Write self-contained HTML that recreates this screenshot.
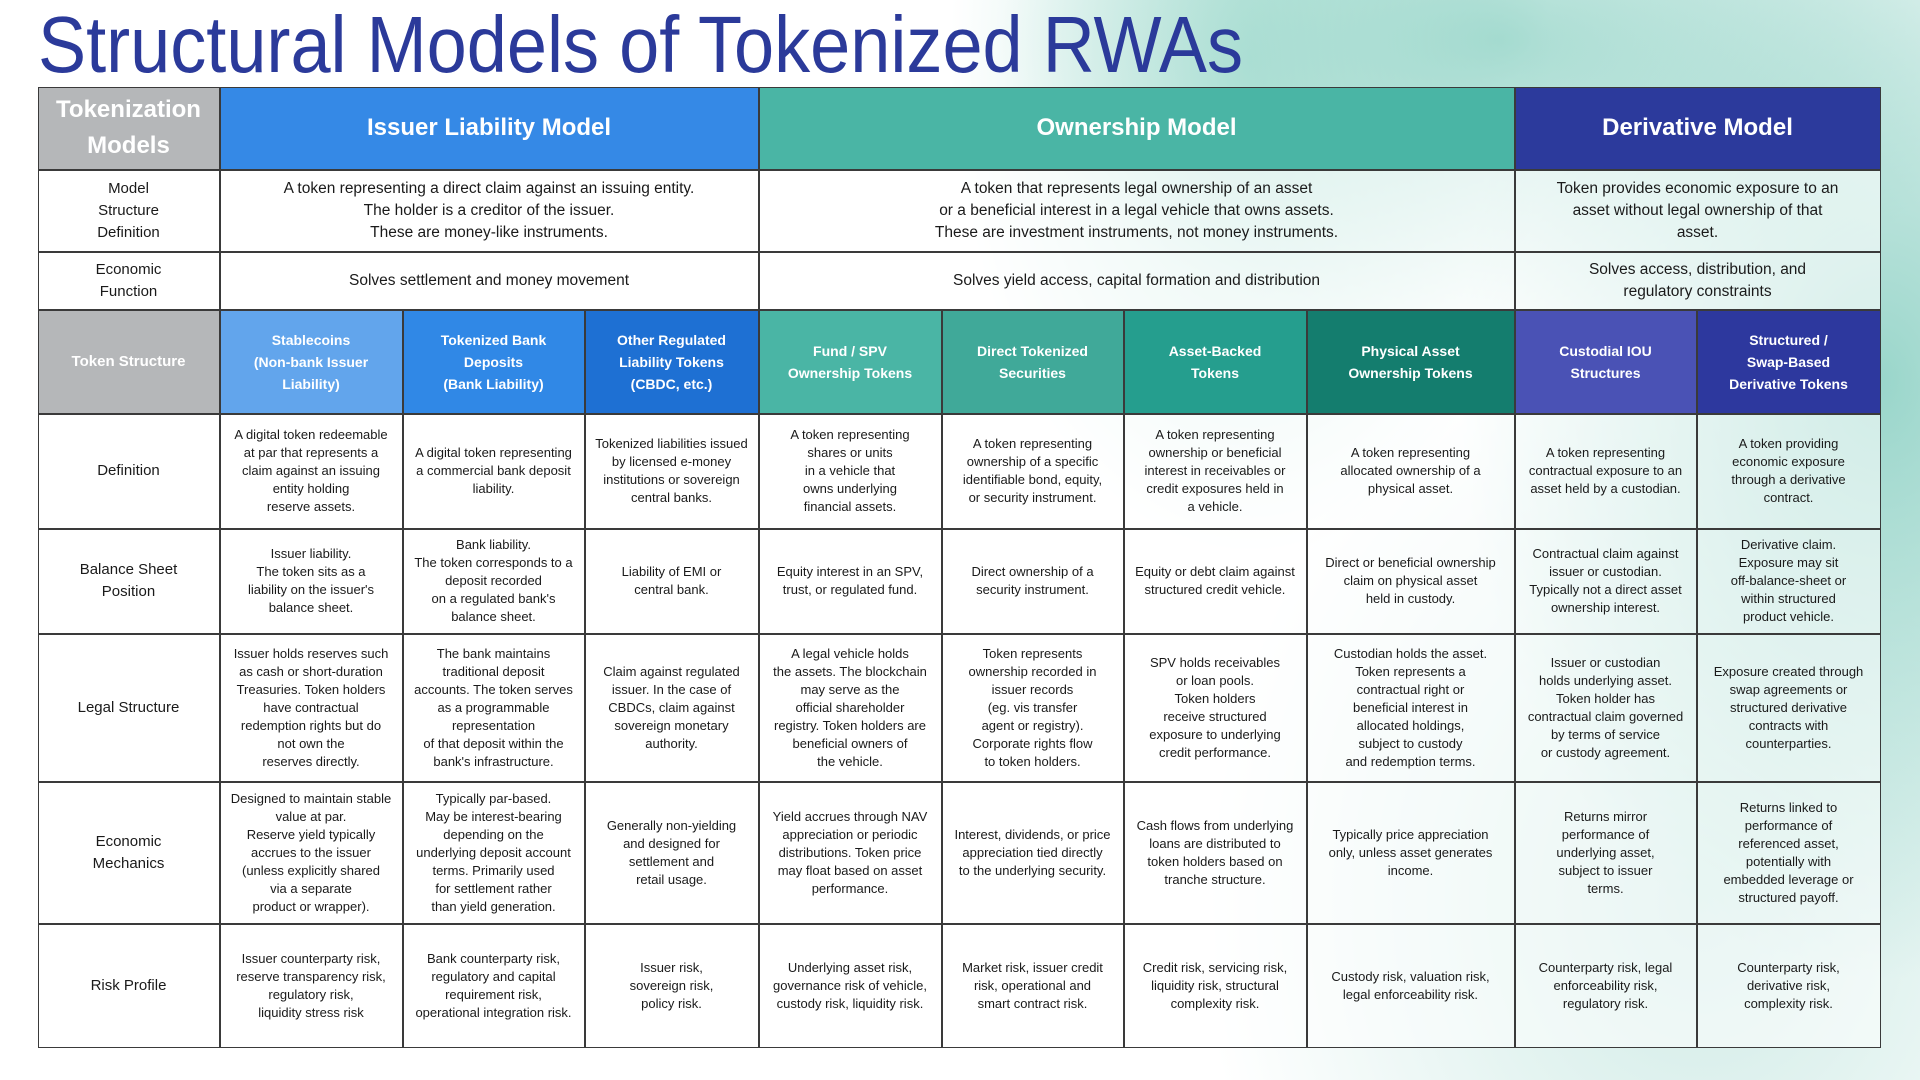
<!DOCTYPE html>
<html><head><meta charset="utf-8">
<style>
*{margin:0;padding:0;box-sizing:border-box}
body{width:1920px;height:1080px;position:relative;overflow:hidden;font-family:"Liberation Sans",sans-serif;
background:
radial-gradient(ellipse 420px 600px at 1880px 380px, rgba(120,200,185,0.75), rgba(120,200,185,0) 100%),
radial-gradient(ellipse 500px 300px at 1500px 40px, rgba(130,205,190,0.7), rgba(130,205,190,0) 100%),
radial-gradient(ellipse 300px 500px at 1250px 60px, rgba(150,215,200,0.6), rgba(150,215,200,0) 100%),
radial-gradient(ellipse 500px 600px at 1700px 900px, rgba(160,215,205,0.5), rgba(160,215,205,0) 100%),
#ffffff;}
.c{position:absolute;display:flex;align-items:center;justify-content:center;text-align:center;border:1px solid #3a3a3a;margin:-0.5px;color:#1a1a1a}
.b{font-size:13px;line-height:18px;background:rgba(255,255,255,0.55)}
.w{background:rgba(255,255,255,0.6)}
.lab{font-size:15px;line-height:22px;background:#fff}
.mh{color:#fff;font-weight:bold;font-size:24px}
.th{color:#fff;font-weight:bold;font-size:14px;line-height:22px}
.big{font-size:15.5px;line-height:22px}
</style></head><body>
<svg style="position:absolute;left:0;top:0" width="1920" height="90"><text x="38" y="72" font-family="Liberation Sans, sans-serif" font-size="80" fill="#2b3a9a" textLength="1205" lengthAdjust="spacingAndGlyphs">Structural Models of Tokenized RWAs</text></svg>

<!-- header row -->
<div class="c" style="left:38px;top:87px;width:182px;height:83px;background:#b5b7b9;color:#fff;font-weight:bold;font-size:24px;line-height:36px">Tokenization<br>Models</div>
<div class="c mh" style="left:220px;top:87px;width:539px;height:83px;background:#3589e6">Issuer Liability Model</div>
<div class="c mh" style="left:759px;top:87px;width:756px;height:83px;background:#4ab5a5">Ownership Model</div>
<div class="c mh" style="left:1515px;top:87px;width:366px;height:83px;background:#2c3a9c">Derivative Model</div>

<!-- model structure -->
<div class="c lab" style="left:38px;top:170px;width:182px;height:82px">Model<br>Structure<br>Definition</div>
<div class="c big" style="left:220px;top:170px;width:539px;height:82px;background:#fff">A token representing a direct claim against an issuing entity.<br>The holder is a creditor of the issuer.<br>These are money-like instruments.</div>
<div class="c big w" style="left:759px;top:170px;width:756px;height:82px">A token that represents legal ownership of an asset<br>or a beneficial interest in a legal vehicle that owns assets.<br>These are investment instruments, not money instruments.</div>
<div class="c big w" style="left:1515px;top:170px;width:366px;height:82px">Token provides economic exposure to an<br>asset without legal ownership of that<br>asset.</div>

<!-- economic function -->
<div class="c lab" style="left:38px;top:252px;width:182px;height:58px">Economic<br>Function</div>
<div class="c big" style="left:220px;top:252px;width:539px;height:58px;background:#fff">Solves settlement and money movement</div>
<div class="c big w" style="left:759px;top:252px;width:756px;height:58px">Solves yield access, capital formation and distribution</div>
<div class="c big w" style="left:1515px;top:252px;width:366px;height:58px">Solves access, distribution, and<br>regulatory constraints</div>

<!-- token structure -->
<div class="c th" style="left:38px;top:310px;width:182px;height:104px;background:#b5b7b9;font-size:15px">Token Structure</div>
<div class="c th" style="left:220px;top:310px;width:183px;height:104px;background:#62a5ec">Stablecoins<br>(Non-bank Issuer<br>Liability)</div>
<div class="c th" style="left:403px;top:310px;width:182px;height:104px;background:#3088e6">Tokenized Bank<br>Deposits<br>(Bank Liability)</div>
<div class="c th" style="left:585px;top:310px;width:174px;height:104px;background:#1e70d3">Other Regulated<br>Liability Tokens<br>(CBDC, etc.)</div>
<div class="c th" style="left:759px;top:310px;width:183px;height:104px;background:#4ab5a5">Fund / SPV<br>Ownership Tokens</div>
<div class="c th" style="left:942px;top:310px;width:182px;height:104px;background:#40a999">Direct Tokenized<br>Securities</div>
<div class="c th" style="left:1124px;top:310px;width:183px;height:104px;background:#259e8e">Asset-Backed<br>Tokens</div>
<div class="c th" style="left:1307px;top:310px;width:208px;height:104px;background:#147d6e">Physical Asset<br>Ownership Tokens</div>
<div class="c th" style="left:1515px;top:310px;width:182px;height:104px;background:#4a52b5">Custodial IOU<br>Structures</div>
<div class="c th" style="left:1697px;top:310px;width:184px;height:104px;background:#2d389e">Structured /<br>Swap-Based<br>Derivative Tokens</div>

<!-- Definition row -->
<div class="c lab" style="left:38px;top:414px;width:182px;height:115px">Definition</div>
<div class="c b" style="left:220px;top:414px;width:183px;height:115px">A digital token redeemable<br>at par that represents a<br>claim against an issuing<br>entity holding<br>reserve assets.</div>
<div class="c b" style="left:403px;top:414px;width:182px;height:115px">A digital token representing<br>a commercial bank deposit<br>liability.</div>
<div class="c b" style="left:585px;top:414px;width:174px;height:115px">Tokenized liabilities issued<br>by licensed e-money<br>institutions or sovereign<br>central banks.</div>
<div class="c b" style="left:759px;top:414px;width:183px;height:115px">A token representing<br>shares or units<br>in a vehicle that<br>owns underlying<br>financial assets.</div>
<div class="c b" style="left:942px;top:414px;width:182px;height:115px">A token representing<br>ownership of a specific<br>identifiable bond, equity,<br>or security instrument.</div>
<div class="c b" style="left:1124px;top:414px;width:183px;height:115px">A token representing<br>ownership or beneficial<br>interest in receivables or<br>credit exposures held in<br>a vehicle.</div>
<div class="c b" style="left:1307px;top:414px;width:208px;height:115px">A token representing<br>allocated ownership of a<br>physical asset.</div>
<div class="c b" style="left:1515px;top:414px;width:182px;height:115px">A token representing<br>contractual exposure to an<br>asset held by a custodian.</div>
<div class="c b" style="left:1697px;top:414px;width:184px;height:115px">A token providing<br>economic exposure<br>through a derivative<br>contract.</div>

<!-- Balance sheet row -->
<div class="c lab" style="left:38px;top:529px;width:182px;height:105px">Balance Sheet<br>Position</div>
<div class="c b" style="left:220px;top:529px;width:183px;height:105px">Issuer liability.<br>The token sits as a<br>liability on the issuer's<br>balance sheet.</div>
<div class="c b" style="left:403px;top:529px;width:182px;height:105px">Bank liability.<br>The token corresponds to a<br>deposit recorded<br>on a regulated bank's<br>balance sheet.</div>
<div class="c b" style="left:585px;top:529px;width:174px;height:105px">Liability of EMI or<br>central bank.</div>
<div class="c b" style="left:759px;top:529px;width:183px;height:105px">Equity interest in an SPV,<br>trust, or regulated fund.</div>
<div class="c b" style="left:942px;top:529px;width:182px;height:105px">Direct ownership of a<br>security instrument.</div>
<div class="c b" style="left:1124px;top:529px;width:183px;height:105px">Equity or debt claim against<br>structured credit vehicle.</div>
<div class="c b" style="left:1307px;top:529px;width:208px;height:105px">Direct or beneficial ownership<br>claim on physical asset<br>held in custody.</div>
<div class="c b" style="left:1515px;top:529px;width:182px;height:105px">Contractual claim against<br>issuer or custodian.<br>Typically not a direct asset<br>ownership interest.</div>
<div class="c b" style="left:1697px;top:529px;width:184px;height:105px">Derivative claim.<br>Exposure may sit<br>off-balance-sheet or<br>within structured<br>product vehicle.</div>

<!-- Legal structure row -->
<div class="c lab" style="left:38px;top:634px;width:182px;height:148px">Legal Structure</div>
<div class="c b" style="left:220px;top:634px;width:183px;height:148px">Issuer holds reserves such<br>as cash or short-duration<br>Treasuries. Token holders<br>have contractual<br>redemption rights but do<br>not own the<br>reserves directly.</div>
<div class="c b" style="left:403px;top:634px;width:182px;height:148px">The bank maintains<br>traditional deposit<br>accounts. The token serves<br>as a programmable<br>representation<br>of that deposit within the<br>bank's infrastructure.</div>
<div class="c b" style="left:585px;top:634px;width:174px;height:148px">Claim against regulated<br>issuer. In the case of<br>CBDCs, claim against<br>sovereign monetary<br>authority.</div>
<div class="c b" style="left:759px;top:634px;width:183px;height:148px">A legal vehicle holds<br>the assets. The blockchain<br>may serve as the<br>official shareholder<br>registry. Token holders are<br>beneficial owners of<br>the vehicle.</div>
<div class="c b" style="left:942px;top:634px;width:182px;height:148px">Token represents<br>ownership recorded in<br>issuer records<br>(eg. vis transfer<br>agent or registry).<br>Corporate rights flow<br>to token holders.</div>
<div class="c b" style="left:1124px;top:634px;width:183px;height:148px">SPV holds receivables<br>or loan pools.<br>Token holders<br>receive structured<br>exposure to underlying<br>credit performance.</div>
<div class="c b" style="left:1307px;top:634px;width:208px;height:148px">Custodian holds the asset.<br>Token represents a<br>contractual right or<br>beneficial interest in<br>allocated holdings,<br>subject to custody<br>and redemption terms.</div>
<div class="c b" style="left:1515px;top:634px;width:182px;height:148px">Issuer or custodian<br>holds underlying asset.<br>Token holder has<br>contractual claim governed<br>by terms of service<br>or custody agreement.</div>
<div class="c b" style="left:1697px;top:634px;width:184px;height:148px">Exposure created through<br>swap agreements or<br>structured derivative<br>contracts with<br>counterparties.</div>

<!-- Economic mechanics row -->
<div class="c lab" style="left:38px;top:782px;width:182px;height:142px">Economic<br>Mechanics</div>
<div class="c b" style="left:220px;top:782px;width:183px;height:142px">Designed to maintain stable<br>value at par.<br>Reserve yield typically<br>accrues to the issuer<br>(unless explicitly shared<br>via a separate<br>product or wrapper).</div>
<div class="c b" style="left:403px;top:782px;width:182px;height:142px">Typically par-based.<br>May be interest-bearing<br>depending on the<br>underlying deposit account<br>terms. Primarily used<br>for settlement rather<br>than yield generation.</div>
<div class="c b" style="left:585px;top:782px;width:174px;height:142px">Generally non-yielding<br>and designed for<br>settlement and<br>retail usage.</div>
<div class="c b" style="left:759px;top:782px;width:183px;height:142px">Yield accrues through NAV<br>appreciation or periodic<br>distributions. Token price<br>may float based on asset<br>performance.</div>
<div class="c b" style="left:942px;top:782px;width:182px;height:142px">Interest, dividends, or price<br>appreciation tied directly<br>to the underlying security.</div>
<div class="c b" style="left:1124px;top:782px;width:183px;height:142px">Cash flows from underlying<br>loans are distributed to<br>token holders based on<br>tranche structure.</div>
<div class="c b" style="left:1307px;top:782px;width:208px;height:142px">Typically price appreciation<br>only, unless asset generates<br>income.</div>
<div class="c b" style="left:1515px;top:782px;width:182px;height:142px">Returns mirror<br>performance of<br>underlying asset,<br>subject to issuer<br>terms.</div>
<div class="c b" style="left:1697px;top:782px;width:184px;height:142px">Returns linked to<br>performance of<br>referenced asset,<br>potentially with<br>embedded leverage or<br>structured payoff.</div>

<!-- Risk row -->
<div class="c lab" style="left:38px;top:924px;width:182px;height:124px">Risk Profile</div>
<div class="c b" style="left:220px;top:924px;width:183px;height:124px">Issuer counterparty risk,<br>reserve transparency risk,<br>regulatory risk,<br>liquidity stress risk</div>
<div class="c b" style="left:403px;top:924px;width:182px;height:124px">Bank counterparty risk,<br>regulatory and capital<br>requirement risk,<br>operational integration risk.</div>
<div class="c b" style="left:585px;top:924px;width:174px;height:124px">Issuer risk,<br>sovereign risk,<br>policy risk.</div>
<div class="c b" style="left:759px;top:924px;width:183px;height:124px">Underlying asset risk,<br>governance risk of vehicle,<br>custody risk, liquidity risk.</div>
<div class="c b" style="left:942px;top:924px;width:182px;height:124px">Market risk, issuer credit<br>risk, operational and<br>smart contract risk.</div>
<div class="c b" style="left:1124px;top:924px;width:183px;height:124px">Credit risk, servicing risk,<br>liquidity risk, structural<br>complexity risk.</div>
<div class="c b" style="left:1307px;top:924px;width:208px;height:124px">Custody risk, valuation risk,<br>legal enforceability risk.</div>
<div class="c b" style="left:1515px;top:924px;width:182px;height:124px">Counterparty risk, legal<br>enforceability risk,<br>regulatory risk.</div>
<div class="c b" style="left:1697px;top:924px;width:184px;height:124px">Counterparty risk,<br>derivative risk,<br>complexity risk.</div>
</body></html>
